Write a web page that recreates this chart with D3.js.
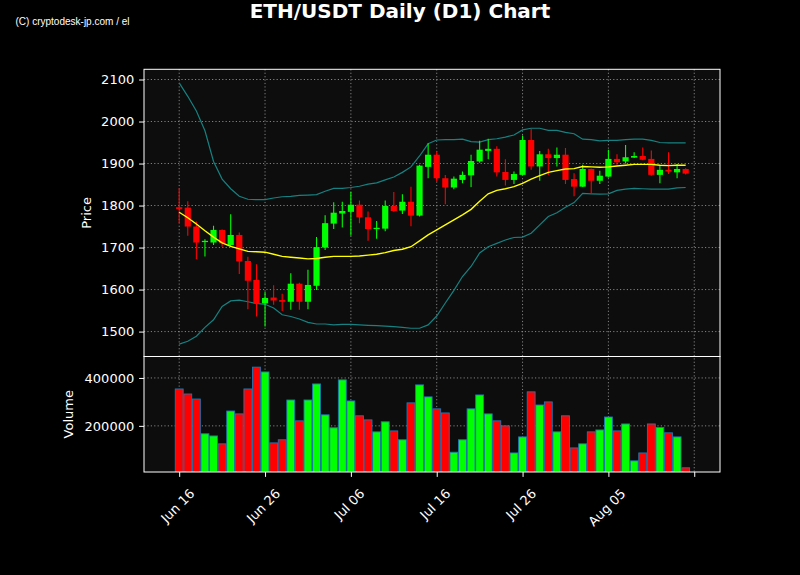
<!DOCTYPE html>
<html><head><meta charset="utf-8">
<script src="https://cdn.jsdelivr.net/npm/d3@7"></script>
<style>
html,body{margin:0;padding:0;background:#000;}
svg{display:block;}
text{font-family:"DejaVu Sans",sans-serif;}
</style>
</head><body>
<svg id="c" width="800" height="575"></svg>
<script>
// ---------- data ----------
const tickIndex = [0, 10, 20, 30, 40, 50, 60];
const tickLabels = ["Jun 16", "Jun 26", "Jul 06", "Jul 16", "Jul 26", "Aug 05", ""];
const priceTicks = [1500, 1600, 1700, 1800, 1900, 2000, 2100];
const volumeTicks = [200000, 400000];

const open = [1796,1795,1750,1713,1712,1742,1706,1730,1668,1623,
  1567,1581,1575,1571,1614,1571,1609,1700,1757,1781,
  1785,1802,1772,1744,1745,1799,1788,1809,1776,1892,
  1921,1865,1843,1861,1872,1905,1930,1935,1880,1861,
  1873,1956,1893,1922,1913,1921,1863,1845,1887,1859,
  1869,1911,1905,1914,1918,1911,1873,1885,1879,1887];
const high = [1841,1810,1762,1720,1752,1743,1779,1736,1678,1660,
  1595,1610,1590,1639,1616,1647,1725,1777,1808,1809,
  1833,1812,1786,1763,1812,1832,1827,1845,1897,1948,
  1930,1873,1869,1881,1921,1954,1959,1941,1910,1881,
  1967,1983,1930,1935,1938,1937,1877,1897,1888,1883,
  1933,1922,1944,1927,1938,1931,1895,1927,1899,1889];
const low = [1758,1728,1672,1679,1706,1702,1704,1637,1553,1536,
  1512,1564,1549,1552,1552,1553,1599,1694,1744,1748,
  1728,1758,1716,1721,1739,1785,1780,1751,1774,1865,
  1857,1803,1839,1853,1844,1902,1910,1869,1848,1851,
  1872,1885,1859,1873,1893,1851,1822,1844,1829,1851,
  1867,1897,1900,1913,1908,1871,1853,1875,1865,1874];
const close = [1792,1750,1712,1716,1742,1710,1730,1667,1621,1566,
  1580,1574,1571,1614,1571,1611,1701,1758,1783,1787,
  1802,1772,1744,1747,1799,1787,1809,1776,1895,1921,
  1865,1843,1864,1873,1906,1933,1935,1879,1861,1875,
  1956,1893,1922,1913,1921,1861,1845,1887,1859,1871,
  1911,1903,1915,1918,1909,1873,1885,1881,1887,1876];
const volume = [354000,333000,312000,167000,158000,125000,262000,250000,354000,445000,
  425000,129000,142000,308000,221000,308000,375000,246000,192000,392000,
  304000,242000,225000,175000,217000,179000,142000,296000,371000,321000,
  271000,254000,90000,142000,271000,329000,250000,221000,200000,87000,
  154000,342000,287000,300000,175000,242000,108000,125000,175000,183000,
  237000,179000,208000,54000,87000,208000,193000,171000,154000,25000];
const ma = [1784,1771,1756,1740,1725,1711,1703,1697,1691,1690,
  1689,1684,1679,1677,1675,1673,1674,1677,1679,1679,
  1679,1680,1682,1684,1688,1693,1696,1702,1716,1730,
  1742,1754,1766,1778,1791,1810,1828,1836,1840,1845,
  1853,1863,1871,1879,1883,1887,1888,1893,1892,1891,
  1892,1894,1896,1898,1898,1898,1896,1895,1896,1896];
const bbUpper = [2092,2060,2025,1978,1905,1863,1840,1822,1815,1814,
  1814,1818,1821,1822,1824,1825,1826,1834,1841,1841,
  1843,1846,1851,1854,1861,1868,1879,1892,1918,1947,
  1956,1957,1957,1958,1952,1951,1957,1959,1963,1968,
  1980,1984,1984,1979,1979,1974,1971,1958,1957,1954,
  1955,1955,1957,1958,1958,1955,1950,1949,1949,1949];
const bbLower = [1470,1477,1489,1510,1528,1560,1573,1575,1571,1567,
  1565,1556,1540,1536,1530,1522,1518,1518,1516,1517,
  1517,1516,1515,1514,1513,1512,1510,1508,1508,1516,
  1537,1568,1598,1631,1655,1687,1702,1710,1718,1724,
  1725,1734,1754,1774,1783,1796,1807,1829,1828,1827,
  1828,1836,1839,1841,1840,1839,1839,1839,1842,1843];

// ---------- layout ----------
const L = 144, R = 720;
const pTop = 69.3, pBot = 356.5, vTop = 356.5, vBot = 472;
const UP = "#00ff00", DOWN = "#ff0000";
const idx = d3.range(open.length);

const svg = d3.select("#c");
svg.append("rect").attr("width", 800).attr("height", 575).attr("fill", "#000");

const x = d3.scaleLinear().domain([-4.1, 63]).range([L, R]);
const y = d3.scaleLinear().domain([1440.7, 2124.3]).range([pBot, pTop]);
const vy = d3.scaleLinear().domain([0.3 * d3.min(volume), 1.1 * d3.max(volume)]).range([vBot, vTop]);
const step = x(1) - x(0);

// panel backgrounds
svg.append("rect").attr("x", L).attr("y", pTop).attr("width", R - L).attr("height", pBot - pTop).attr("fill", "#0d0d0d");
svg.append("rect").attr("x", L).attr("y", vTop).attr("width", R - L).attr("height", vBot - vTop).attr("fill", "#0d0d0d");

const defs = svg.append("defs");
defs.append("clipPath").attr("id", "cp").append("rect").attr("x", L).attr("y", pTop).attr("width", R - L).attr("height", pBot - pTop);
defs.append("clipPath").attr("id", "cv").append("rect").attr("x", L).attr("y", vTop).attr("width", R - L).attr("height", vBot - vTop);

// grid
const gridStyle = g => g.attr("stroke", "#a8a8a8").attr("stroke-width", 0.9).attr("stroke-dasharray", "1.2,2.2").attr("opacity", 0.85);
const grid = svg.append("g");
grid.selectAll(".hp").data(priceTicks).join("line")
  .attr("x1", L).attr("x2", R).attr("y1", d => y(d)).attr("y2", d => y(d)).call(gridStyle);
grid.selectAll(".hv").data(volumeTicks).join("line")
  .attr("x1", L).attr("x2", R).attr("y1", d => vy(d)).attr("y2", d => vy(d)).call(gridStyle);
grid.selectAll(".vp").data(tickIndex).join("line")
  .attr("x1", d => x(d)).attr("x2", d => x(d)).attr("y1", pTop).attr("y2", vBot).call(gridStyle);

// bollinger + ma
const plot = svg.append("g").attr("clip-path", "url(#cp)");
const line = arr => d3.line().x((d, i) => x(i)).y(d => y(d))(arr);
plot.append("path").attr("d", line(bbUpper)).attr("fill", "none").attr("stroke", "#178080").attr("stroke-width", 1.2);
plot.append("path").attr("d", line(bbLower)).attr("fill", "none").attr("stroke", "#178080").attr("stroke-width", 1.2);

// candles
const bw = step * 0.72;
const cg = plot.append("g");
cg.selectAll("line.w").data(idx).join("line")
  .attr("x1", i => x(i)).attr("x2", i => x(i))
  .attr("y1", i => y(high[i])).attr("y2", i => y(low[i]))
  .attr("stroke", i => close[i] >= open[i] ? UP : DOWN).attr("stroke-width", 1.1);
cg.selectAll("rect.b").data(idx).join("rect")
  .attr("x", i => x(i) - bw / 2).attr("width", bw)
  .attr("y", i => y(Math.max(open[i], close[i])))
  .attr("height", i => Math.max(1, Math.abs(y(open[i]) - y(close[i]))))
  .attr("fill", i => close[i] >= open[i] ? UP : DOWN);

plot.append("path").attr("d", line(ma)).attr("fill", "none").attr("stroke", "#ffff00").attr("stroke-width", 1.4);

// volume
const vbw = step * 0.92;
svg.append("g").attr("clip-path", "url(#cv)").selectAll("rect").data(idx).join("rect")
  .attr("x", i => x(i) - vbw / 2).attr("width", vbw)
  .attr("y", i => vy(volume[i])).attr("height", i => vBot - vy(volume[i]))
  .attr("fill", i => close[i] >= open[i] ? UP : DOWN)
  .attr("stroke", "#1f77b4").attr("stroke-width", 0.9);

// spines
svg.append("rect").attr("x", L).attr("y", pTop).attr("width", R - L).attr("height", pBot - pTop).attr("fill", "none").attr("stroke", "#fff").attr("stroke-width", 1);
svg.append("rect").attr("x", L).attr("y", vTop).attr("width", R - L).attr("height", vBot - vTop).attr("fill", "none").attr("stroke", "#fff").attr("stroke-width", 1);

// axes
function styleAxis(g) {
  g.select(".domain").remove();
  g.selectAll(".tick line").attr("stroke", "#fff").attr("stroke-width", 1);
  g.selectAll(".tick text").attr("fill", "#fff").style("font-size", "13px").style("font-family", "DejaVu Sans, sans-serif");
}
svg.append("g").attr("transform", `translate(${L},0)`)
  .call(d3.axisLeft(y).tickValues(priceTicks).tickFormat(d3.format("d")).tickSize(4.9).tickPadding(4.9))
  .call(styleAxis);
svg.append("g").attr("transform", `translate(${L},0)`)
  .call(d3.axisLeft(vy).tickValues(volumeTicks).tickFormat(d3.format("d")).tickSize(4.9).tickPadding(4.9))
  .call(styleAxis);
const xa = svg.append("g").attr("transform", `translate(0,${vBot})`)
  .call(d3.axisBottom(x).tickValues(tickIndex).tickFormat((d, i) => tickLabels[i]).tickSize(4.9))
  .call(styleAxis);
xa.selectAll(".tick text").each(function () {
  const t = d3.select(this);
  const len = this.getComputedTextLength();
  const box = (len + 15) * Math.SQRT1_2;
  t.attr("y", 0).attr("dy", null).attr("text-anchor", "middle").attr("dominant-baseline", "central")
    .attr("transform", `translate(-2,${14 + box / 2}) rotate(-45)`);
});

// labels
svg.append("text").attr("transform", `translate(91,${(pTop + pBot) / 2}) rotate(-90)`)
  .attr("text-anchor", "middle").attr("fill", "#fff").style("font-size", "13px").text("Price");
svg.append("text").attr("transform", `translate(73,${(vTop + vBot) / 2}) rotate(-90)`)
  .attr("text-anchor", "middle").attr("fill", "#fff").style("font-size", "13px").text("Volume");

svg.append("text").attr("x", 400).attr("y", 17.5).attr("text-anchor", "middle").attr("fill", "#fff")
  .style("font-size", "20px").style("font-weight", "bold").text("ETH/USDT Daily (D1) Chart");
svg.append("text").attr("x", 15.5).attr("y", 24.5).attr("fill", "#fff")
  .style("font-size", "10px").style("font-family", "Liberation Sans, Arial, sans-serif")
  .attr("textLength", 114).attr("lengthAdjust", "spacingAndGlyphs").text("(C) cryptodesk-jp.com / el");
</script>
</body></html>
